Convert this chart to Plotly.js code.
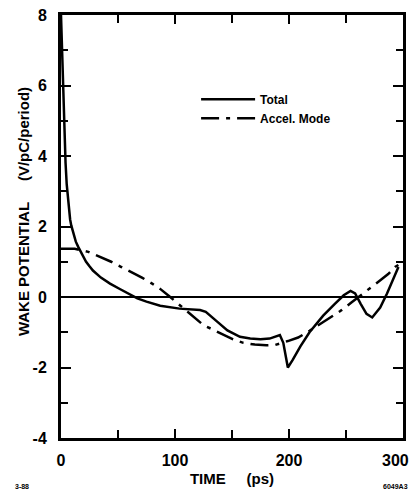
<!DOCTYPE html>
<html>
<head>
<meta charset="utf-8">
<script src="https://cdn.plot.ly/plotly-3.0.1.min.js"></script>
<style>html,body{margin:0;padding:0;background:#fff;}</style>
</head>
<body>
<div id="chart" style="width:413px;height:490px;"></div>
<script>
// Data
const totalTime = [0, 0.5, 1, 2, 2.5, 3, 3.5, 4, 5, 6, 7, 8, 9, 10, 11.5, 13, 15, 17, 19.5, 22, 25, 28, 35, 43, 52, 60, 67, 75, 87, 104, 115, 122, 127, 132, 137, 146, 157, 166, 175, 183, 189, 192, 195, 199, 203, 210, 218, 230, 240, 248, 254, 258, 263, 268, 273, 280, 286, 291, 296];
const totalWake = [8.0, 7.4, 7.0, 5.7, 5.1, 4.6, 4.1, 3.8, 3.2, 2.8, 2.45, 2.2, 2.03, 1.9, 1.72, 1.57, 1.43, 1.3, 1.14, 1.0, 0.87, 0.75, 0.55, 0.38, 0.22, 0.08, -0.04, -0.13, -0.25, -0.33, -0.36, -0.37, -0.42, -0.55, -0.7, -0.95, -1.13, -1.18, -1.2, -1.18, -1.1, -1.08, -1.3, -2.0, -1.8, -1.4, -1.0, -0.53, -0.2, 0.05, 0.17, 0.1, -0.2, -0.48, -0.58, -0.3, 0.1, 0.5, 0.85];

const accelTime = [0, 12, 24, 34, 44, 53, 62, 71, 80, 87, 95, 103, 111, 118, 125, 133, 142, 151, 160, 170, 180, 188, 199, 208, 218, 232, 245, 255, 264, 271, 279, 287, 293, 298];
const accelWake = [1.37, 1.37, 1.28, 1.14, 1.0, 0.85, 0.71, 0.55, 0.38, 0.23, 0.02, -0.2, -0.42, -0.63, -0.8, -0.92, -1.07, -1.2, -1.3, -1.35, -1.37, -1.36, -1.25, -1.15, -0.96, -0.68, -0.4, -0.15, 0.09, 0.25, 0.45, 0.65, 0.85, 0.95];

const seriesNames = ["Total", "Accel. Mode"];
const NB = "\u00a0";
const xTickVals = [0, 100, 200, 300];
const xTickText = ["0", "100", "200", ""];
const xEndLabel = "300";
const xMinorVals = [50, 150, 250];
const yTickVals = [-4, -2, 0, 2, 4, 6, 8];
const yTickText = ["-4", "-2", "0", "2", "4", "6", "8"];

const FONT = "Liberation Sans, Arial, sans-serif";

const traces = [
  {
    x: totalTime, y: totalWake, name: seriesNames[0],
    type: "scatter", mode: "lines",
    line: {color: "#000", width: 2.5}
  },
  {
    x: accelTime, y: accelWake, name: seriesNames[1],
    type: "scatter", mode: "lines",
    line: {color: "#000", width: 2.5, dash: "18px,7px,4px,7px"}
  }
];

const layout = {
  width: 413, height: 490,
  margin: {l: 61, r: 10, t: 15, b: 52},
  paper_bgcolor: "#fff", plot_bgcolor: "#fff",
  font: {family: FONT, color: "#000", size: 14, weight: "bold"},
  showlegend: true,
  legend: {
    x: 0.395, y: 0.835, xanchor: "left", yanchor: "top",
    bgcolor: "rgba(0,0,0,0)", borderwidth: 0,
    itemwidth: 54, tracegroupgap: 0,
    font: {family: FONT, size: 12, weight: "bold", color: "#000"}
  },
  xaxis: {
    range: [0, 300.01], tickmode: "array", tickvals: xTickVals, ticktext: xTickText,
    ticks: "inside", ticklen: 9, tickwidth: 2, tickcolor: "#000",
    minor: {tickmode: "array", tickvals: xMinorVals, ticks: "inside", ticklen: 8, tickwidth: 2, tickcolor: "#000", showgrid: false},
    showline: true, linewidth: 3, linecolor: "#000", mirror: "allticks",
    showgrid: false, zeroline: false,
    tickfont: {family: FONT, size: 16, weight: "bold"},
    ticklabelstandoff: 6,
    title: {text: NB.repeat(3) + "TIME" + NB.repeat(5) + "(ps)", font: {family: FONT, size: 15, weight: "bold"}, standoff: 6}
  },
  yaxis: {
    range: [-4, 8], tickmode: "array", tickvals: yTickVals, ticktext: yTickText,
    ticks: "inside", ticklen: 10, tickwidth: 2, tickcolor: "#000",
    minor: {dtick: 1, ticks: "inside", ticklen: 7, tickwidth: 2, tickcolor: "#000", showgrid: false},
    showline: true, linewidth: 3, linecolor: "#000", mirror: "allticks",
    showgrid: false, zeroline: true, zerolinecolor: "#000", zerolinewidth: 2,
    tickfont: {family: FONT, size: 16, weight: "bold"},
    ticklabelstandoff: 8
  },
  annotations: [
    {text: xEndLabel, xref: "x", yref: "paper", x: xTickVals[3], y: 0, xanchor: "center", yanchor: "top",
     xshift: -7, yshift: -12, showarrow: false, font: {family: FONT, size: 16, weight: "bold"}},
    {text: "WAKE POTENTIAL" + NB.repeat(5) + "(V/pC/period)", xref: "paper", yref: "paper",
     x: -0.11, y: 0.535, xanchor: "center", yanchor: "middle", textangle: -90, showarrow: false,
     font: {family: FONT, size: 15, weight: "bold"}},
    {text: "3-88", xref: "paper", yref: "paper", x: -0.14, y: -0.115, xanchor: "left", yanchor: "middle", showarrow: false, font: {family: FONT, size: 7, weight: "bold"}},
    {text: "6049A3", xref: "paper", yref: "paper", x: 1.02, y: -0.115, xanchor: "right", yanchor: "middle", showarrow: false, font: {family: FONT, size: 7, weight: "bold"}}
  ]
};

Plotly.newPlot("chart", traces, layout, {displayModeBar: false, staticPlot: true});
</script>
</body>
</html>
